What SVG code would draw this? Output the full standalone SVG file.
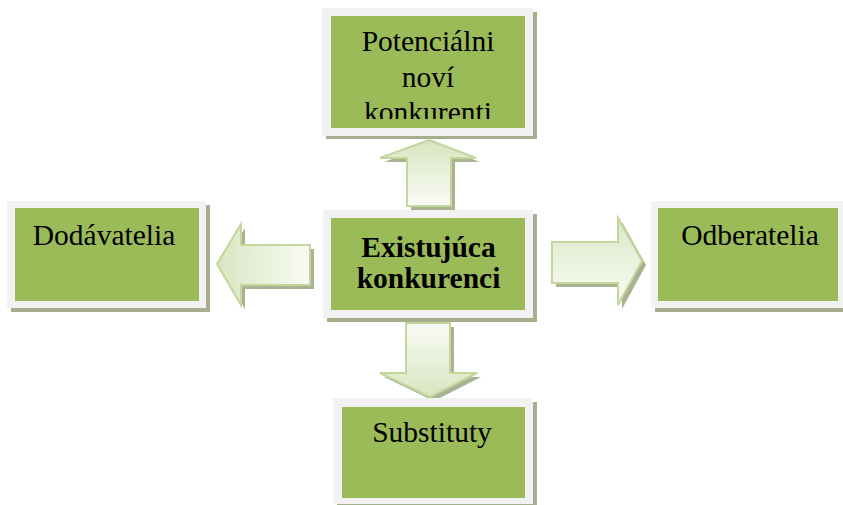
<svg xmlns="http://www.w3.org/2000/svg" width="843" height="505" viewBox="0 0 843 505">
  <style>
    .shadow { fill: #a5ae8d; }
    .frame { fill: #f2f2f2; }
    .panel { fill: #9bbb59; }
    .label { font-family: "Liberation Serif", "Times New Roman", serif; font-size: 29.5px; fill: #000; text-anchor: middle; }
    .bold { font-weight: bold; }
    .arrow-shadow { fill: #a9b293; }
    .arrow { stroke: #c3d69b; stroke-width: 2; stroke-linejoin: miter; }
  </style>
  <defs>
    <linearGradient id="gUp" x1="0" y1="0" x2="0" y2="1">
      <stop offset="0" stop-color="#d8e5c0"/>
      <stop offset="1" stop-color="#f9fbf5"/>
    </linearGradient>
    <linearGradient id="gDown" x1="0" y1="0" x2="0" y2="1">
      <stop offset="0" stop-color="#f9fbf5"/>
      <stop offset="1" stop-color="#d8e5c0"/>
    </linearGradient>
    <linearGradient id="gLeft" x1="0" y1="0" x2="1" y2="0">
      <stop offset="0" stop-color="#d8e5c0"/>
      <stop offset="1" stop-color="#f9fbf5"/>
    </linearGradient>
    <linearGradient id="gRight" x1="0" y1="0" x2="0" y2="1">
      <stop offset="0" stop-color="#dce8c6"/>
      <stop offset="1" stop-color="#f9fbf5"/>
    </linearGradient>
    <clipPath id="topClip">
      <rect x="331" y="16" width="194" height="103"/>
    </clipPath>
  </defs>

  <!-- block arrows -->
  <g id="connectors">
    <g id="arrow-up">
      <polygon class="arrow-shadow" points="433,144 480,162 455,162 455,210 411,210 411,162 384,162"/>
      <polygon class="arrow" fill="url(#gUp)" points="429,140 476,158 451,158 451,206 407,206 407,158 380,158"/>
    </g>
    <g id="arrow-down">
      <polygon class="arrow-shadow" points="410,327 454,327 454,377 481,377 434,401 384,377 410,377"/>
      <polygon class="arrow" fill="url(#gDown)" points="406,323 450,323 450,373 477,373 430,397 380,373 406,373"/>
    </g>
    <g id="arrow-left">
      <polygon class="arrow-shadow" points="221,268 245,228 245,249 314,249 314,289 245,289 245,309"/>
      <polygon class="arrow" fill="url(#gLeft)" points="217,264 241,224 241,245 310,245 310,285 241,285 241,305"/>
    </g>
    <g id="arrow-right">
      <polygon class="arrow-shadow" points="556,246 622,246 622,222 646,265 622,309 622,287 556,287"/>
      <polygon class="arrow" fill="url(#gRight)" points="552,242 618,242 618,218 642,261 618,305 618,283 552,283"/>
    </g>
  </g>

  <!-- top node -->
  <g id="node-potencialni">
    <rect class="shadow" x="326" y="12" width="211" height="127"/>
    <rect class="frame" x="322" y="8" width="211" height="128"/>
    <rect class="panel" x="331" y="16" width="194" height="112"/>
    <g clip-path="url(#topClip)">
      <text class="label" x="428" y="51">Potenciálni</text>
      <text class="label" x="428" y="87">noví</text>
      <text class="label" x="428" y="122">konkurenti</text>
    </g>
  </g>

  <!-- center node -->
  <g id="node-existujuca">
    <rect class="shadow" x="327" y="214" width="210" height="108"/>
    <rect class="frame" x="323" y="210" width="210" height="108"/>
    <rect class="panel" x="331" y="218" width="194" height="92"/>
    <text class="label bold" x="428.5" y="257">Existujúca</text>
    <text class="label bold" x="428.5" y="288">konkurenci</text>
  </g>

  <!-- left node -->
  <g id="node-dodavatelia">
    <rect class="shadow" x="11" y="205" width="199" height="107"/>
    <rect class="frame" x="7" y="201" width="199" height="107"/>
    <rect class="panel" x="15" y="208" width="184" height="93"/>
    <text class="label" x="104" y="245">Dodávatelia</text>
  </g>

  <!-- right node -->
  <g id="node-odberatelia">
    <rect class="shadow" x="655" y="205" width="200" height="107"/>
    <rect class="frame" x="651" y="201" width="200" height="107"/>
    <rect class="panel" x="658" y="208" width="180" height="93"/>
    <text class="label" x="750" y="245">Odberatelia</text>
  </g>

  <!-- bottom node -->
  <g id="node-substituty">
    <rect class="shadow" x="337" y="402" width="200" height="110"/>
    <rect class="frame" x="333" y="398" width="200" height="106"/>
    <rect class="panel" x="342" y="407" width="183" height="91"/>
    <text class="label" x="432" y="442">Substituty</text>
  </g>
</svg>
